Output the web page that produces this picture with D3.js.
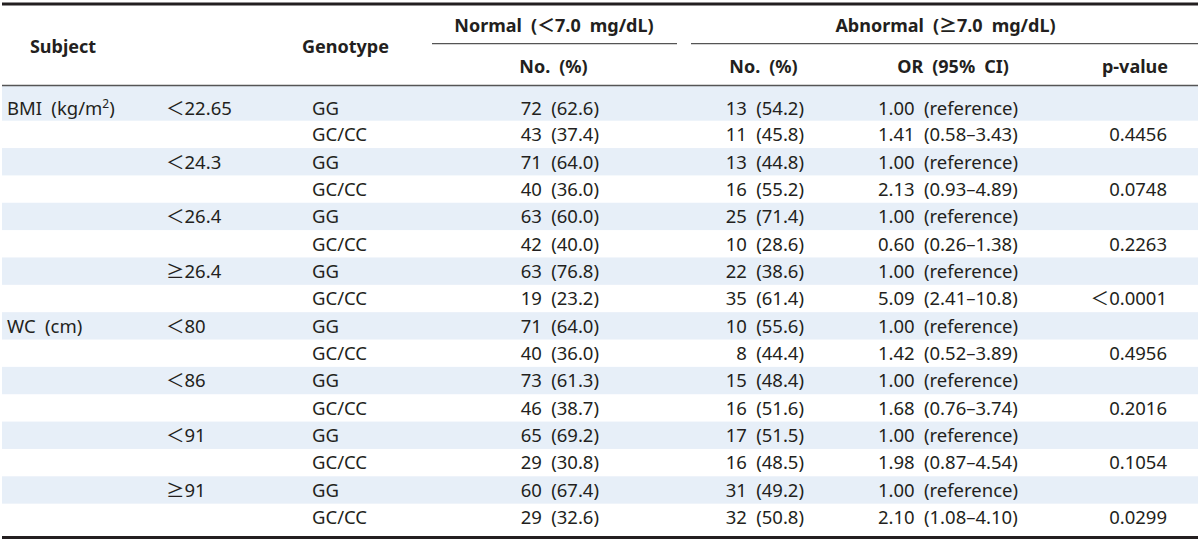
<!DOCTYPE html>
<html>
<head>
<meta charset="utf-8">
<script src="https://cdn.jsdelivr.net/npm/d3@7"></script>
<style>
  html, body { margin: 0; padding: 0; background: #fff; }
  svg { display: block; }
  text { font-family: "Noto Sans", "Open Sans", sans-serif; fill: #231f20; white-space: pre; }
</style>
</head>
<body>
<svg id="chart" width="1200" height="541"></svg>
<script>
// ---------------- data ----------------
const headerTop = ["Subject", "Genotype", "Normal (<7.0 mg/dL)", "Abnormal (≥7.0 mg/dL)"];
const headerSub = ["No. (%)", "No. (%)", "OR (95% CI)", "p-value"];
const subjects = ["BMI (kg/m^2)", "WC (cm)"];
const cutoffs = ["<22.65", "<24.3", "<26.4", "≥26.4", "<80", "<86", "<91", "≥91"];
const genotypes = ["GG", "GC/CC"];
const normalN   = [72, 43, 71, 40, 63, 42, 63, 19, 71, 40, 73, 46, 65, 29, 60, 29];
const normalPct = [62.6, 37.4, 64.0, 36.0, 60.0, 40.0, 76.8, 23.2, 64.0, 36.0, 61.3, 38.7, 69.2, 30.8, 67.4, 32.6];
const abnN      = [13, 11, 13, 16, 25, 10, 22, 35, 10, 8, 15, 16, 17, 16, 31, 32];
const abnPct    = [54.2, 45.8, 44.8, 55.2, 71.4, 28.6, 38.6, 61.4, 55.6, 44.4, 48.4, 51.6, 51.5, 48.5, 49.2, 50.8];
const orVals  = [1.41, 2.13, 0.60, 5.09, 1.42, 1.68, 1.98, 2.10];
const ciLow   = [0.58, 0.93, 0.26, 2.41, 0.52, 0.76, 0.87, 1.08];
const ciHigh  = [3.43, 4.89, 1.38, 10.8, 3.89, 3.74, 4.54, 4.10];
const pValues = ["0.4456", "0.0748", "0.2263", "<0.0001", "0.4956", "0.2016", "0.1054", "0.0299"];

// ---------------- build rows ----------------
const SP = "\u2002";
const fmtCI = v => v >= 10 ? v.toFixed(1) : v.toFixed(2);
const rows = normalN.map((n, i) => {
  const pair = Math.floor(i / 2), isRef = i % 2 === 0;
  return {
    i,
    subject: (i % 8 === 0) ? subjects[i / 8] : "",
    cutoff: isRef ? cutoffs[pair] : "",
    genotype: genotypes[i % 2],
    normal: `${n} (${normalPct[i].toFixed(1)})`,
    abn: `${abnN[i]} (${abnPct[i].toFixed(1)})`,
    or: isRef ? "1.00 (reference)" : `${orVals[pair].toFixed(2)} (${fmtCI(ciLow[pair])}–${fmtCI(ciHigh[pair])})`,
    p: isRef ? "" : pValues[pair]
  };
});

// ---------------- layout ----------------
const svg = d3.select("#chart");
const X0 = 2, X1 = 1198;
const FS = 18.5, HFS = 18;

// row tops: first row is taller (superscript)
const rowScale = d3.scaleLinear().domain([1, 16]).range([120.7, 531]);
const rowTopY = i => i === 0 ? 86 : rowScale(i);
const rowBotY = i => rowScale(i + 1);
const baseY = i => i === 0 ? 114.5 : rowScale(i) + 20.5;

// text helper: renders special symbols with CJK full-width glyphs and ^2 superscript
function richText(sel, str) {
  sel.text(null);
  const parts = str.split(/(<|≥|\^2)/).filter(s => s !== "");
  let raised = false;
  parts.forEach(p => {
    if (p === "<" || p === "≥") {
      sel.append("tspan").attr("font-family", "Noto Sans CJK KR").attr("dy", raised ? 6 : null)
        .text(p === "<" ? "\uFF1C" : "\u2265");
      raised = false;
    } else if (p === "^2") {
      sel.append("tspan").attr("font-size", 12).attr("dy", -7).text("2");
      raised = true;
    } else {
      sel.append("tspan").attr("dy", raised ? 7 : null).text(p.replace(/ /g, SP));
      raised = false;
    }
  });
}

// shaded bands (reference rows)
svg.append("g").selectAll("rect")
  .data(rows.filter(r => r.i % 2 === 0))
  .join("rect")
  .attr("x", X0).attr("width", X1 - X0)
  .attr("y", d => rowTopY(d.i)).attr("height", d => rowBotY(d.i) - rowTopY(d.i))
  .attr("fill", "#e7eff8");

// lines
svg.append("line").attr("x1", X0).attr("x2", X1).attr("y1", 4).attr("y2", 4)
  .attr("stroke", "#231f20").attr("stroke-width", 3);
svg.append("line").attr("x1", X0).attr("x2", X1).attr("y1", 85.5).attr("y2", 85.5)
  .attr("stroke", "#555").attr("stroke-width", 1.3);
svg.append("line").attr("x1", X0).attr("x2", X1).attr("y1", 537.5).attr("y2", 537.5)
  .attr("stroke", "#231f20").attr("stroke-width", 3);
svg.append("line").attr("x1", 432).attr("x2", 677).attr("y1", 43.7).attr("y2", 43.7)
  .attr("stroke", "#555").attr("stroke-width", 1.3);
svg.append("line").attr("x1", 691).attr("x2", X1).attr("y1", 43.7).attr("y2", 43.7)
  .attr("stroke", "#555").attr("stroke-width", 1.3);

// headers
const hdr = svg.append("g").attr("font-weight", "bold").attr("font-size", HFS).attr("text-anchor", "middle");
const topPos = [[63, 53], [345.5, 53], [554, 32], [945.5, 32]];
headerTop.forEach((t, k) => {
  hdr.append("text").attr("x", topPos[k][0]).attr("y", topPos[k][1]).call(richText, t);
});
const subPos = [553.5, 763.5, 953, 1135];
headerSub.forEach((t, k) => {
  hdr.append("text").attr("x", subPos[k]).attr("y", 73).call(richText, t);
});

// body cells
const cols = [
  { key: "subject", x: 7, anchor: "start" },
  { key: "cutoff", x: 166, anchor: "start" },
  { key: "genotype", x: 312, anchor: "start" },
  { key: "normal", x: 599, anchor: "end" },
  { key: "abn", x: 804, anchor: "end" },
  { key: "or", x: 878, anchor: "start" },
  { key: "p", x: 1167, anchor: "end" }
];
const body = svg.append("g").attr("font-size", FS);
cols.forEach(c => {
  body.append("g").attr("text-anchor", c.anchor)
    .selectAll("text")
    .data(rows.filter(r => r[c.key] !== ""))
    .join("text")
    .attr("x", c.x)
    .attr("y", d => baseY(d.i))
    .each(function (d) { richText(d3.select(this), d[c.key]); });
});
</script>
</body>
</html>
